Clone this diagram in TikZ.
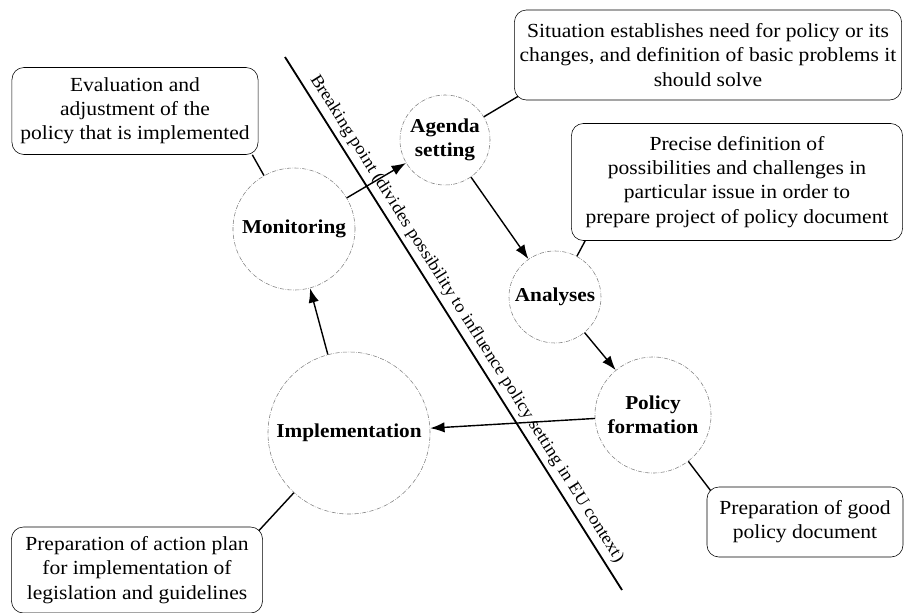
\documentclass[tikz,border=0pt]{standalone}
\usepackage{fontspec}
\setmainfont[FakeStretch=1.08]{Liberation Serif}
\usetikzlibrary{arrows.meta}

\begin{document}
\begin{tikzpicture}[
  x = 0.025cm, y = -0.025cm,
  every node/.style = {font=\fontsize{14.2}{17.2}\selectfont},
  stage/.style = {
    circle, draw=gray, densely dashdotted, inner sep=0pt, align=center,
    font=\fontsize{14}{17.2}\selectfont\bfseries
  },
  note/.style = {rectangle, rounded corners=0.3cm, draw, align=center},
  link/.style = {line width=1pt},
  flow/.style = {link, -{Latex[length=3.6mm, width=2.6mm]}}
]
  \useasboundingbox (0, 0) rectangle (904, 613);

  \node[stage, minimum size=2.25cm] (agenda) at (445, 140) {Agenda\\setting};
  \node[stage, minimum size=2.3cm] (analyses) at (555, 297) {Analyses};
  \node[stage, minimum size=2.9cm] (policy) at (653, 415) {Policy\\formation};
  \node[stage, minimum size=4.05cm] (impl) at (349, 433) {Implementation};
  \node[stage, minimum size=3.05cm] (monit) at (294, 229) {Monitoring};

  \node[note, minimum width=6.15cm, minimum height=2.175cm] (eval) at (135, 111)
    {Evaluation and\\adjustment of the\\policy that is implemented};
  \node[note, minimum width=9.675cm, minimum height=2.25cm] (sit) at (708, 55)
    {Situation establishes need for policy or its\\changes, and definition of basic problems it\\should solve};
  \node[note, minimum width=8.275cm, minimum height=2.925cm] (prec) at (737, 182)
    {Precise definition of\\possibilities and challenges in\\particular issue in order to\\prepare project of policy document};
  \node[note, minimum width=4.9cm, minimum height=1.75cm] (good) at (805, 522)
    {Preparation of good\\policy document};
  \node[note, minimum width=6.275cm, minimum height=2.15cm] (plan) at (137, 570)
    {Preparation of action plan\\for implementation of\\legislation and guidelines};

  \coordinate (bt) at (285, 57);
  \coordinate (bb) at (622, 590);
  \draw[line width=1.3pt] (bt) -- (bb) node[
    pos=0.505,
    sloped,
    above,
    font=\fontsize{12.3}{14}\selectfont
  ] {Breaking point (divides possibility to influence policy setting in EU context)};

  \draw[flow] (monit) -- (agenda);
  \draw[flow] (agenda) -- (analyses);
  \draw[flow] (analyses) -- (policy);
  \draw[flow] (policy) -- (impl);
  \draw[flow] (impl) -- (monit);

  \draw[link] ([xshift=-0.15cm]eval.south east) -- (monit);
  \draw[link] ([shift={(4, -4)}]sit.south west) -- (agenda);
  \draw[link] ([xshift=0.35cm]prec.south west) -- (analyses);
  \draw[link] (policy) -- ([shift={(4, 4)}]good.north west);
  \draw[link] (impl) -- ([shift={(-4, 4)}]plan.north east);

\end{tikzpicture}
\end{document}
